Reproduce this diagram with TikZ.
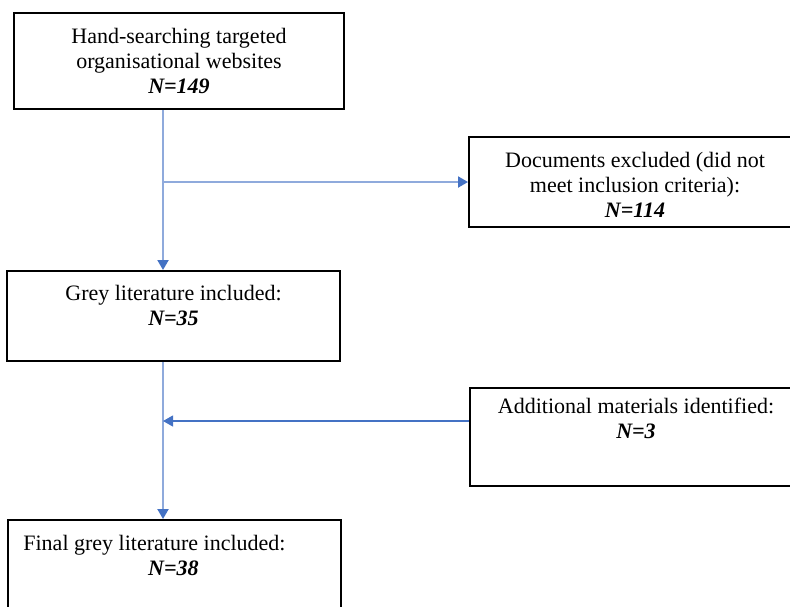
\documentclass[tikz,border=0pt]{standalone}
\usepackage{fontspec}
\setmainfont{Liberation Serif}
\usetikzlibrary{arrows.meta}
\definecolor{linkblue}{HTML}{8FAADC}
\definecolor{tipblue}{HTML}{4472C4}
\newcommand{\Nval}[1]{\textbf{\textit{N=#1}}}
\begin{document}
\begin{tikzpicture}[x=0.5pt, y=-0.5pt,
        box/.style={draw, line width=1pt, inner sep=0pt, align=center, font=\fontsize{11}{12.5}\selectfont},
        txt/.style={inner sep=0pt, align=center, font=\fontsize{11}{12.5}\selectfont},
        link/.style={linkblue, line width=1pt, -{Triangle[length=5pt, width=5.5pt, color=tipblue]}},
        feed/.style={tipblue, line width=0.6pt, -{Triangle[length=5pt, width=5.5pt]}}]
        \useasboundingbox (0,0) rectangle (790,606);
        \clip (0,0) rectangle (790,606);
        % Search
        \node[box, minimum width=165pt, minimum height=48pt] (hand) at (179,61) {Hand-searching targeted\\organisational websites\\\Nval{149}};
        % Excluded
        \node[box, minimum width=172.5pt, minimum height=45pt] (excl) at (641.5,182) {};
        \node[txt] (excltxt) at (635,185) {Documents excluded (did not\\meet inclusion criteria):\\\Nval{114}};
        % Included
        \node[box, minimum width=166.5pt, minimum height=45pt] (grey) at (173.5,316) {};
        \node[txt] (greytxt) at (173.5,305.5) {Grey literature included:\\\Nval{35}};
        % Additional
        \node[box, minimum width=172.5pt, minimum height=49pt] (addit) at (642.5,437) {};
        \node[txt] (additxt) at (636,418.5) {Additional materials identified:\\\Nval{3}};
        % Final
        \node[box, minimum width=166.5pt, minimum height=48pt] (final) at (174.5,568) {};
        \node[txt, anchor=west, align=left] (finaltxt) at (23,555) {Final grey literature included:\\\makebox[150pt]{\Nval{38}}};
        
        % Arrows
        \coordinate (spine) at (163,0);
        \coordinate (merge) at (163,421);
        \draw[link] (spine |- hand.south) -- (spine |- grey.north);
        \draw[link] (spine |- excl.west) -- (excl.west);
        \draw[link] (spine |- grey.south) -- (spine |- final.north);
        \draw[feed] (addit.west |- merge) -- (merge);
    \end{tikzpicture}
\end{document}
